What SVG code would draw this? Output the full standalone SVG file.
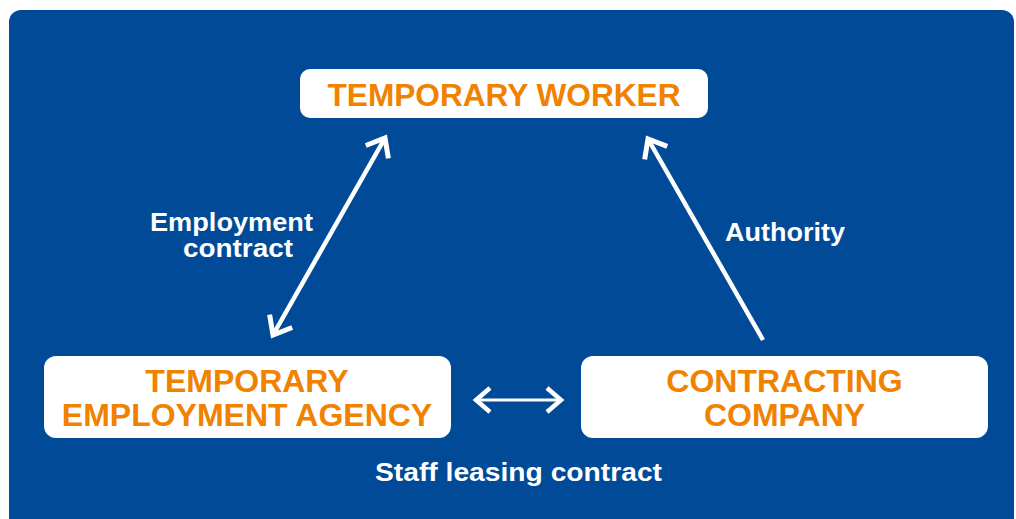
<svg xmlns="http://www.w3.org/2000/svg" width="1016" height="519" viewBox="0 0 1016 519">
<style>
.node{fill:#ffffff}
.nt{font-family:"Liberation Sans",Arial,sans-serif;font-weight:bold;font-size:32px;fill:#f08200;text-anchor:middle}
.lbl{font-family:"Liberation Sans",Arial,sans-serif;font-weight:bold;font-size:25px;fill:#ffffff}
.ln{stroke:#ffffff;fill:none}
</style>
<defs>
<marker id="headL" markerUnits="userSpaceOnUse" viewBox="-24 -20 30 40" markerWidth="30" markerHeight="40" refX="0" refY="0" orient="auto-start-reverse">
<path d="M-16,-13 L0,0 L-16,13" fill="none" stroke="#ffffff" stroke-width="5"/>
</marker>
<marker id="headS" markerUnits="userSpaceOnUse" viewBox="-24 -20 30 40" markerWidth="30" markerHeight="40" refX="0" refY="0" orient="auto-start-reverse">
<path d="M-14,-12 L0,0 L-14,12" fill="none" stroke="#ffffff" stroke-width="4.5"/>
</marker>
</defs>
<rect x="9" y="10" width="1005" height="530" rx="12" fill="#014a98"/>
<g id="connectors">
<line class="ln" x1="273" y1="335" x2="385" y2="138" stroke-width="4.5" marker-start="url(#headL)" marker-end="url(#headL)"/>
<line class="ln" x1="763" y1="340" x2="648" y2="139" stroke-width="4.5" marker-end="url(#headL)"/>
<line class="ln" x1="476" y1="400" x2="561" y2="400" stroke-width="3.2" marker-start="url(#headS)" marker-end="url(#headS)"/>
</g>
<g id="temporary-worker">
<rect class="node" x="300" y="69" width="408" height="49" rx="10"/>
<text class="nt" x="504" y="106" textLength="353" lengthAdjust="spacingAndGlyphs">TEMPORARY WORKER</text>
</g>
<g id="agency">
<rect class="node" x="44" y="356" width="407" height="82" rx="12"/>
<text class="nt" x="247" y="392">TEMPORARY</text>
<text class="nt" x="247" y="426">EMPLOYMENT AGENCY</text>
</g>
<g id="contracting-company">
<rect class="node" x="581" y="356" width="407" height="82" rx="12"/>
<text class="nt" x="784.5" y="392">CONTRACTING</text>
<text class="nt" x="784.5" y="426">COMPANY</text>
</g>
<g id="labels">
<text class="lbl" x="150" y="231" textLength="163" lengthAdjust="spacingAndGlyphs">Employment</text>
<text class="lbl" x="183" y="257" textLength="110" lengthAdjust="spacingAndGlyphs">contract</text>
<text class="lbl" x="725" y="241" textLength="120" lengthAdjust="spacingAndGlyphs">Authority</text>
<text class="lbl" x="375" y="481" textLength="287" lengthAdjust="spacingAndGlyphs">Staff leasing contract</text>
</g>
</svg>
